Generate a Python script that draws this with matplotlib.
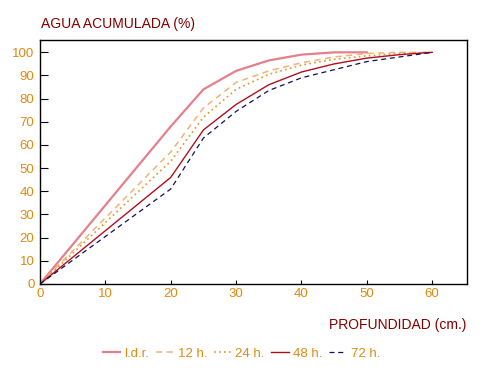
import numpy as np
import matplotlib.pyplot as plt

plt.rcParams['font.family'] = ['Liberation Sans', 'DejaVu Sans']

# depth (cm)
depth = [0, 20, 25, 30, 35, 40, 45, 50, 55, 60]

# accumulated water (%) per series
ldr = [0, 68, 84, 92, 96.5, 99, 100, 100]        # stops at 50 cm
h12 = [0, 57, 76, 87, 92, 95.5, 98, 99.5, 100, 100]
h24 = [0, 53, 72, 84, 90.5, 94.5, 97, 98.5, 99.5, 100]
h48 = [0, 46, 66.5, 77.5, 86, 91.5, 95, 97.5, 99, 100]
h72 = [0, 41, 63, 74.5, 83.5, 89, 92.5, 96, 98, 100]

labels = ["l.d.r.", "12 h.", "24 h.", "48 h.", "72 h."]

orange = "#e08a10"
darkred = "#800000"

fig = plt.figure(figsize=(5.01, 3.79), dpi=100)
ax = fig.add_axes([0.0798, 0.2507, 0.852, 0.643])

ax.plot(depth[:len(ldr)], ldr, color="#e4808c", lw=1.6, label=labels[0])
ax.plot(depth, h12, color="#f2b27a", lw=1.1, ls=(0, (4, 3)), label=labels[1])
ax.plot(depth, h24, color="#e0962a", lw=1.2, ls=(0, (1, 2)), label=labels[2])
ax.plot(depth, h48, color="#b0101e", lw=1.0, label=labels[3])
ax.plot(depth, h72, color="#10105a", lw=0.9, ls=(0, (4, 3)), label=labels[4])

ax.set_xlim(0, 65.3)
ax.set_ylim(0, 105.2)
ax.set_xticks(range(0, 61, 10))
ax.set_yticks(range(0, 101, 10))
ax.tick_params(axis='y', direction='in', length=5.5, width=0.8, colors='black',
               labelcolor=orange, labelsize=9.5, pad=4)
ax.tick_params(axis='x', direction='in', length=3, width=0.8, colors='black',
               labelcolor=orange, labelsize=9.5, pad=3)
for s in ax.spines.values():
    s.set_linewidth(1.0)

fig.text(0.081, 0.936, "AGUA ACUMULADA (%)", color=darkred, fontsize=10,
         ha='left', va='center')
fig.text(0.93, 0.142, "PROFUNDIDAD (cm.)", color=darkred, fontsize=10,
         ha='right', va='center')

leg = fig.legend(loc='center', bbox_to_anchor=(0.482, 0.066), ncol=5, frameon=False,
                 fontsize=9.5, handlelength=1.3, handletextpad=0.35,
                 columnspacing=0.5)
for t in leg.get_texts():
    t.set_color(orange)

fig.savefig("out.png", dpi=100)
